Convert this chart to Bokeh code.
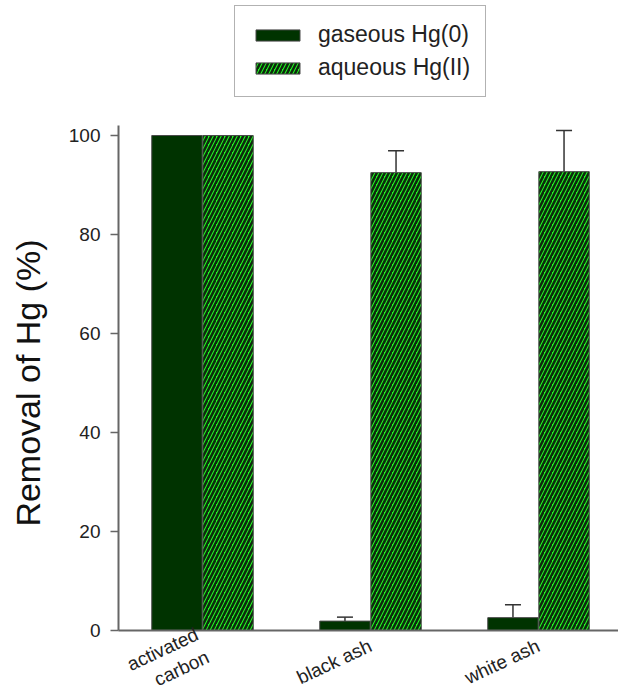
import math
from bokeh.plotting import figure
from bokeh.models import (ColumnDataSource, Range1d, FixedTicker, Whisker, TeeHead,
                          Legend, LegendItem, Label)
from bokeh.embed import file_html
from bokeh.resources import INLINE

# ---- data ----
categories = ["activated\ncarbon", "black ash", "white ash"]
gaseous = [100.0, 1.9, 2.6]
gaseous_err = [0.0, 0.8, 2.6]
aqueous = [100.0, 92.5, 92.7]
aqueous_err = [0.0, 4.4, 8.3]
y_ticks = [0, 20, 40, 60, 80, 100]
series_names = ["gaseous Hg(0)", "aqueous Hg(II)"]
y_title = "Removal of Hg (%)"

centers = [i + 0.5 for i in range(len(categories))]
bw = 0.30
off = 0.152

xg = [c - off for c in centers]
xa = [c + off for c in centers]
src_g = ColumnDataSource(dict(x=xg, top=gaseous))
src_a = ColumnDataSource(dict(x=xa, top=aqueous))


def err_source(xs, vals, errs):
    keep = [i for i, e in enumerate(errs) if e > 0]
    return ColumnDataSource(dict(
        x=[xs[i] for i in keep],
        lower=[vals[i] for i in keep],
        upper=[vals[i] + errs[i] for i in keep]))


FONT = "Liberation Sans"
W, H = 618, 692
X0 = 118          # pixel column of the y axis
Y0 = 630          # pixel row of y = 0
PX_PER_X = 168.0
PX_PER_Y = 4.95

p = figure(width=W, height=H, output_backend="svg", toolbar_location=None,
           x_range=Range1d(-X0 / PX_PER_X, (W - X0) / PX_PER_X),
           y_range=Range1d(-(H - Y0) / PX_PER_Y, Y0 / PX_PER_Y),
           min_border_left=0, min_border_right=0, min_border_top=0,
           min_border_bottom=0)
p.outline_line_color = None
p.xgrid.visible = False
p.ygrid.visible = False
p.background_fill_color = "white"

rg = p.vbar(x="x", top="top", bottom=0, width=bw, source=src_g,
            fill_color="#003300", line_color="#4a4a4a", line_width=1)
ra = p.vbar(x="x", top="top", bottom=0, width=bw, source=src_a,
            fill_color="#22ff22", line_color="#4a4a4a", line_width=1,
            hatch_pattern="/", hatch_color="#0d2a0d", hatch_weight=2.6,
            hatch_scale=8)

for src in (err_source(xg, gaseous, gaseous_err), err_source(xa, aqueous, aqueous_err)):
    w = Whisker(base="x", lower="lower", upper="upper", source=src,
                line_color="#333333", line_width=1.5,
                upper_head=TeeHead(size=16, line_color="#333333", line_width=1.5),
                lower_head=None)
    p.add_layout(w)

# y axis, pinned at x = 0
p.yaxis.fixed_location = 0
p.yaxis.ticker = FixedTicker(ticks=y_ticks)
p.yaxis.bounds = (0, 102)
p.yaxis.major_label_text_font = FONT
p.yaxis.major_label_text_font_size = "19px"
p.yaxis.major_label_text_color = "#222222"
p.yaxis.major_label_standoff = 10
p.yaxis.major_tick_out = 8
p.yaxis.major_tick_in = 0
p.yaxis.minor_tick_line_color = None
p.yaxis.axis_line_color = "#666666"
p.yaxis.axis_line_width = 2
p.yaxis.major_tick_line_color = "#666666"
p.yaxis.major_tick_line_width = 1.5

# y axis title
p.add_layout(Label(x=27, x_units="screen", y=(y_ticks[0] + y_ticks[-1]) / 2,
                   y_units="data", text=y_title, angle=math.pi / 2,
                   text_align="center", text_baseline="middle",
                   text_font=FONT, text_font_size="34px", text_color="#111111"))

# x axis, pinned at y = 0
p.xaxis.fixed_location = 0
p.xaxis.bounds = (0, (W - X0) / PX_PER_X)
p.xaxis.ticker = FixedTicker(ticks=centers)
p.xaxis.major_label_overrides = {c: lab for c, lab in zip(centers, categories)}
p.xaxis.major_label_orientation = 0.44
p.xaxis.major_label_text_font = FONT
p.xaxis.major_label_text_font_size = "19px"
p.xaxis.major_label_text_color = "#222222"
p.xaxis.major_tick_line_color = None
p.xaxis.minor_tick_line_color = None
p.xaxis.axis_line_color = "#666666"
p.xaxis.axis_line_width = 2
p.xaxis.major_label_standoff = 8

legend = Legend(items=[LegendItem(label=series_names[0], renderers=[rg]),
                       LegendItem(label=series_names[1], renderers=[ra])],
                location=(234, H - 97), orientation="vertical",
                glyph_width=55, glyph_height=14, label_height=25, spacing=6,
                padding=15, label_standoff=13, margin=0,
                label_text_font=FONT, label_text_font_size="23px",
                label_text_color="#222222",
                border_line_color="#666666", border_line_width=1.5,
                background_fill_alpha=1)
p.add_layout(legend, "center")

open("out.html", "w").write(file_html(p, INLINE))
